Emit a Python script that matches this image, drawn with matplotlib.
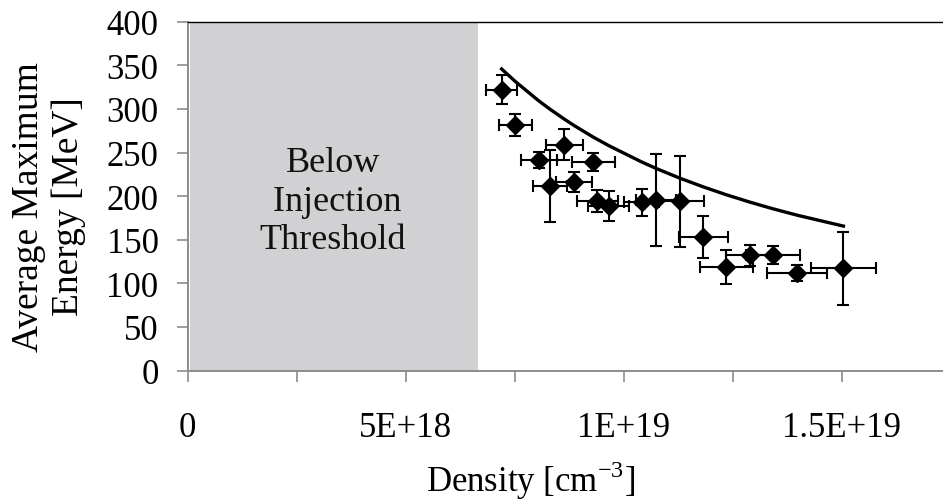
import numpy as np
import matplotlib
matplotlib.use("Agg")
import matplotlib.pyplot as plt

plt.rcParams['font.family'] = ['Liberation Serif', 'DejaVu Serif']
plt.rcParams['mathtext.fontset'] = 'custom'
plt.rcParams['mathtext.rm'] = 'Liberation Serif'

# Measured shots: density (units of 1e18 cm^-3) and peak energy (MeV)
density = [7.20, 7.51, 8.06, 8.32, 8.64, 8.86, 9.30, 9.39, 9.66,
           10.41, 10.74, 11.28, 11.83, 12.35, 12.90, 13.42, 13.97, 15.04]
energy = [322.0, 281.8, 241.6, 211.7, 258.8, 216.3, 239.3, 194.5, 188.7,
          193.0, 195.9, 194.1, 153.6, 118.7, 132.1, 132.1, 112.2, 117.2]
density_err = [0.36, 0.38, 0.42, 0.39, 0.42, 0.42, 0.49, 0.47, 0.47,
               0.40, 0.45, 0.57, 0.57, 0.61, 0.55, 0.62, 0.69, 0.74]
energy_err = [16.7, 12.5, 9.5, 41.0, 17.8, 11.1, 10.3, 12.8, 16.8,
              15.7, 52.6, 52.3, 24.1, 19.7, 11.9, 10.3, 9.0, 41.8]

# Scaling curve evaluated at the same densities
theory_energy = [345.8, 331.6, 308.9, 299.3, 288.2, 281.0, 267.7, 265.2, 257.8,
                 239.2, 231.8, 220.7, 210.5, 201.6, 193.0, 185.5, 178.2, 165.6]

threshold = 6.65  # 1e18 cm^-3
xtick_vals = [0, 2.5, 5, 7.5, 10, 12.5, 15]
xtick_labels = ['0', '', '5E+18', '', '1E+19', '', '1.5E+19']
ytick_vals = [0, 50, 100, 150, 200, 250, 300, 350, 400]

scale = 1e18
x = np.array(density) * scale
xe = np.array(density_err) * scale

W, H = 943, 502
fig = plt.figure(figsize=(W / 100, H / 100), dpi=100)
ax = fig.add_axes([187.7 / W, 1 - 371.5 / H, 1 - 187.7 / W, (371.5 - 22.7) / H])

ax.axvspan(0.05 * scale, threshold * scale, color='#d1d1d3', zorder=0, lw=0)
ax.text(3.33 * scale, 194, 'Below\n Injection\nThreshold', ha='center', va='center',
        fontsize=26, linespacing=1.22, color='#111111')

ax.plot(x, theory_energy, color='black', lw=2.4, zorder=2)
ax.errorbar(x, energy, xerr=xe, yerr=energy_err, fmt='D', color='black',
            ms=9.5, elinewidth=1.5, capsize=4, capthick=1.5, zorder=3)

ax.set_xlim(0, (943 - 187.7) / 43.6 * scale)
ax.set_ylim(0, 400)
ax.set_xticks(np.array(xtick_vals) * scale)
ax.set_xticklabels(xtick_labels)
ax.set_yticks(ytick_vals)

ax.spines['right'].set_visible(False)
ax.spines['top'].set_color('black')
ax.spines['top'].set_linewidth(1.0)
for side in ['left', 'bottom']:
    ax.spines[side].set_color('#8c8c8c')
    ax.spines[side].set_linewidth(1.4)

ax.tick_params(axis='both', direction='out', length=8, width=1.2, color='#8c8c8c',
               labelsize=25, labelcolor='black')
ax.tick_params(axis='x', pad=21)
ax.tick_params(axis='y', pad=13)

fig.text(531 / W, 1 - 481 / H, 'Density [cm$^{\\mathrm{-3}}$]', ha='center', va='center',
         fontsize=25)
fig.text(48.5 / W, 1 - 207 / H, 'Average Maximum\nEnergy [MeV]', ha='center', va='center',
         rotation=90, fontsize=27, linespacing=1.22, multialignment='center')

fig.savefig('out.png', dpi=100)
